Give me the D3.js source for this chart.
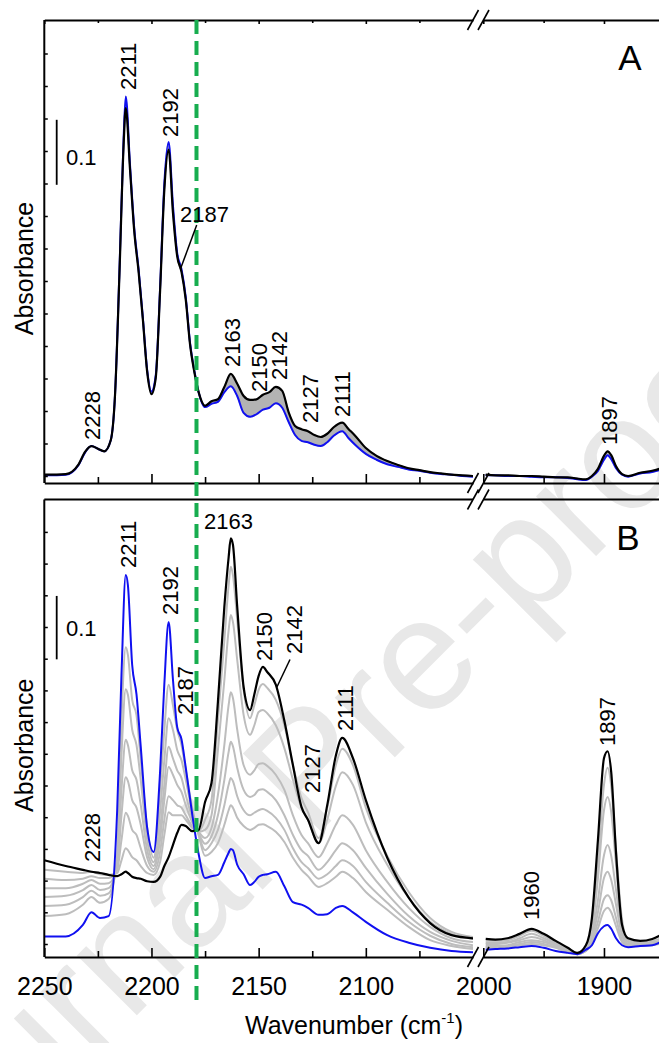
<!DOCTYPE html>
<html><head><meta charset="utf-8">
<script src="https://cdn.jsdelivr.net/npm/d3@7"></script>
<style>html,body{margin:0;padding:0;background:#fff;} svg{display:block;}</style>
</head><body>
<svg id="chart" width="659" height="1043"></svg>
<script>
// ---------------- DATA ----------------
// Left segment wavenumbers (cm-1), panel A
const wnA = [2250,2240,2234,2231,2228,2225,2222,2219,2217,2215,2213,2212,2210,2208,2206,2204,2202,2200,2198,2196,2194,2192,2190,2188,2186,2184,2182,2180,2178,2175,2172,2169,2166,2163,2160,2157,2154,2151,2148,2145,2142,2139,2136,2133,2130,2127,2124,2121,2118,2115,2111,2108,2105,2100,2095,2090,2085,2080,2075,2070,2065,2060,2055,2050];
const blackA = [0.002,0.003,0.018,0.037,0.046,0.042,0.038,0.055,0.125,0.305,0.509,0.566,0.471,0.375,0.314,0.240,0.160,0.126,0.151,0.283,0.440,0.502,0.406,0.338,0.314,0.271,0.202,0.160,0.129,0.108,0.115,0.118,0.137,0.157,0.142,0.123,0.117,0.118,0.125,0.129,0.137,0.131,0.098,0.077,0.072,0.069,0.063,0.060,0.065,0.075,0.082,0.072,0.062,0.043,0.031,0.023,0.017,0.012,0.009,0.006,0.004,0.002,0.001,0.000];
const blueA = [0.001,0.002,0.017,0.036,0.046,0.042,0.038,0.055,0.125,0.310,0.520,0.584,0.478,0.380,0.318,0.243,0.163,0.130,0.155,0.288,0.450,0.514,0.417,0.343,0.318,0.275,0.205,0.162,0.129,0.106,0.111,0.114,0.129,0.138,0.123,0.097,0.091,0.095,0.102,0.105,0.112,0.105,0.083,0.063,0.054,0.052,0.048,0.046,0.052,0.062,0.069,0.058,0.048,0.034,0.025,0.018,0.014,0.010,0.008,0.005,0.003,0.002,0.000,-0.001];
// Right segment wavenumbers (both panels)
const wnR = [1998,1990,1980,1970,1960,1950,1940,1930,1922,1915,1910,1905,1900,1897,1894,1890,1885,1880,1870,1860,1854];
const blackA_R = [0.002,0.001,0.001,0.000,0.000,-0.001,-0.002,-0.002,-0.004,-0.005,0.000,0.011,0.031,0.038,0.032,0.015,0.003,0.000,0.005,0.008,0.011];
const blueA_R = [0.001,0.001,0.000,0.000,-0.001,-0.002,-0.002,-0.003,-0.005,-0.006,-0.001,0.008,0.025,0.032,0.026,0.012,0.002,-0.001,0.004,0.006,0.009];

// Panel B, left segment
const wnB = [2250,2240,2232,2228,2224,2220,2216,2214,2212,2211,2209,2207,2205,2202,2199,2196,2194,2192,2190,2188,2186,2184,2181,2178,2175,2172,2169,2166,2164,2163,2162,2160,2157,2154,2152,2150,2148,2146,2142,2138,2134,2130,2127,2122,2118,2114,2111,2106,2100,2090,2080,2070,2060,2050];
const blueB = [0.012,0.012,0.030,0.050,0.041,0.044,0.211,0.424,0.582,0.566,0.440,0.394,0.311,0.183,0.145,0.271,0.410,0.508,0.418,0.342,0.323,0.278,0.205,0.142,0.104,0.107,0.109,0.129,0.144,0.150,0.148,0.125,0.110,0.093,0.098,0.106,0.109,0.110,0.114,0.091,0.066,0.062,0.057,0.046,0.047,0.057,0.060,0.050,0.035,0.014,0.002,-0.006,-0.011,-0.013];
const g1B = [0.044,0.047,0.062,0.074,0.065,0.071,0.140,0.353,0.468,0.456,0.385,0.361,0.290,0.183,0.136,0.243,0.338,0.409,0.377,0.338,0.314,0.274,0.215,0.172,0.139,0.145,0.159,0.188,0.211,0.219,0.215,0.199,0.186,0.180,0.183,0.188,0.189,0.186,0.177,0.161,0.136,0.117,0.107,0.090,0.096,0.106,0.114,0.104,0.082,0.054,0.027,0.006,-0.003,-0.008];
const g2B = [0.060,0.062,0.074,0.084,0.076,0.080,0.132,0.298,0.402,0.393,0.338,0.314,0.259,0.164,0.129,0.208,0.290,0.356,0.338,0.306,0.290,0.259,0.208,0.173,0.148,0.159,0.180,0.219,0.251,0.262,0.257,0.233,0.211,0.203,0.207,0.211,0.213,0.210,0.199,0.180,0.151,0.129,0.120,0.103,0.110,0.123,0.132,0.123,0.098,0.065,0.035,0.013,0.000,-0.005];
const g3B = [0.074,0.076,0.085,0.093,0.085,0.088,0.125,0.243,0.322,0.314,0.274,0.259,0.219,0.148,0.123,0.180,0.251,0.311,0.293,0.274,0.262,0.235,0.199,0.175,0.158,0.170,0.203,0.259,0.303,0.319,0.312,0.278,0.243,0.232,0.235,0.243,0.244,0.240,0.227,0.203,0.172,0.148,0.139,0.117,0.129,0.148,0.159,0.148,0.120,0.079,0.044,0.019,0.005,-0.002];
const g4B = [0.088,0.088,0.095,0.101,0.095,0.096,0.120,0.203,0.263,0.257,0.227,0.215,0.188,0.136,0.118,0.164,0.227,0.279,0.267,0.251,0.240,0.219,0.192,0.177,0.167,0.183,0.235,0.314,0.377,0.397,0.388,0.338,0.282,0.267,0.274,0.284,0.285,0.281,0.267,0.243,0.203,0.172,0.159,0.137,0.159,0.188,0.203,0.188,0.148,0.098,0.057,0.027,0.009,0.003];
const g5B = [0.103,0.101,0.103,0.107,0.104,0.104,0.117,0.164,0.207,0.202,0.180,0.172,0.151,0.123,0.114,0.145,0.196,0.233,0.227,0.219,0.215,0.203,0.186,0.177,0.180,0.203,0.306,0.416,0.495,0.519,0.508,0.448,0.361,0.330,0.345,0.366,0.369,0.364,0.345,0.309,0.259,0.215,0.196,0.159,0.196,0.249,0.271,0.251,0.192,0.125,0.073,0.035,0.016,0.008];
const g6B = [0.117,0.114,0.112,0.114,0.110,0.109,0.112,0.132,0.151,0.148,0.137,0.132,0.123,0.112,0.109,0.129,0.172,0.208,0.203,0.203,0.203,0.196,0.183,0.178,0.196,0.227,0.353,0.479,0.566,0.595,0.582,0.511,0.401,0.356,0.377,0.401,0.410,0.404,0.385,0.345,0.282,0.230,0.208,0.167,0.215,0.282,0.308,0.282,0.215,0.139,0.082,0.041,0.019,0.011];
const blackB = [0.132,0.123,0.117,0.114,0.112,0.109,0.107,0.110,0.114,0.112,0.106,0.104,0.103,0.099,0.098,0.106,0.123,0.137,0.156,0.175,0.188,0.186,0.178,0.180,0.224,0.254,0.382,0.532,0.610,0.640,0.630,0.532,0.405,0.369,0.394,0.423,0.437,0.429,0.409,0.352,0.282,0.216,0.196,0.159,0.219,0.297,0.325,0.293,0.227,0.136,0.073,0.033,0.014,0.009];
// Panel B, right segment
const blueB_R  = [-0.009,-0.008,-0.007,-0.005,-0.003,-0.006,-0.011,-0.014,-0.016,-0.009,-0.002,0.017,0.028,0.030,0.024,0.009,-0.002,-0.005,-0.003,-0.002,0.002];
const g1B_R = [-0.006,-0.006,-0.005,-0.002,0.000,-0.002,-0.006,-0.013,-0.016,-0.011,0.002,0.025,0.052,0.057,0.050,0.028,0.003,-0.003,-0.003,-0.002,0.000];
const g2B_R = [-0.005,-0.005,-0.003,0.000,0.003,0.000,-0.005,-0.011,-0.016,-0.011,0.005,0.035,0.071,0.077,0.069,0.041,0.006,-0.003,-0.002,0.000,0.002];
const g3B_R = [-0.003,-0.003,-0.002,0.003,0.006,0.003,-0.003,-0.011,-0.016,-0.009,0.009,0.050,0.104,0.114,0.101,0.062,0.013,-0.002,-0.002,0.000,0.002];
const g4B_R = [0.000,0.000,0.002,0.006,0.011,0.006,-0.002,-0.009,-0.014,-0.008,0.014,0.069,0.140,0.156,0.139,0.085,0.019,0.000,0.000,0.002,0.003];
const g5B_R = [0.002,0.002,0.003,0.009,0.016,0.009,0.000,-0.009,-0.014,-0.006,0.022,0.104,0.211,0.232,0.208,0.125,0.028,0.003,0.002,0.003,0.005];
const g6B_R = [0.005,0.005,0.006,0.013,0.021,0.013,0.002,-0.008,-0.014,-0.005,0.030,0.129,0.251,0.278,0.249,0.148,0.038,0.006,0.003,0.005,0.008];
const blackB_R = [0.008,0.007,0.009,0.016,0.024,0.016,0.005,-0.006,-0.014,-0.002,0.041,0.164,0.293,0.304,0.271,0.144,0.030,0.009,0.005,0.008,0.013];

// Tick values / labels
const majorTicksL = [2250,2200,2150,2100];
const minorTicksL = [2225,2175,2125,2075];
const majorTicksR = [2000,1900];
const minorTicksR = [1950];
const yTickValues = d3.range(0, 0.651, 0.05);
const dashedLineWn = 2179;

// Peak annotations
const peaksA = [2228,2211,2192,2163,2150,2142,2127,2111];
const peaksA_R = [1897];
const peaksB = [2228,2211,2192,2187,2150,2127,2111];
const peaksB_R = [1960,1897];

// ---------------- LAYOUT ----------------
const FONT = '"Liberation Sans", Arial, Helvetica, sans-serif';
const svg = d3.select('#chart');
const W = 659, H = 1043;
svg.append('rect').attr('width', W).attr('height', H).attr('fill', '#fff');

// watermark
svg.append('text')
  .attr('transform', 'translate(-91,1243) rotate(-45)')
  .attr('font-family', FONT).attr('font-size', 160).attr('fill', '#e8e8e8')
  .text('Journal Pre-proof');

const xL = d3.scaleLinear().domain([2250, 2050]).range([44.3, 473]);
const xR = d3.scaleLinear().domain([2000, 1854.4]).range([483.3, 659]);
const yA = d3.scaleLinear().domain([0, 0.7]).range([476, 21]);
const yB = d3.scaleLinear().domain([0, 0.7]).range([944, 500.2]);

const panels = [
  {id:'A', top:20, bottom:483, y:yA},
  {id:'B', top:499.5, bottom:957, y:yB}
];

const defs = svg.append('defs');
panels.forEach(p => {
  defs.append('clipPath').attr('id', 'clipL' + p.id).append('rect')
    .attr('x', 44.3).attr('y', p.top).attr('width', 473 - 44.3).attr('height', p.bottom - p.top);
  defs.append('clipPath').attr('id', 'clipR' + p.id).append('rect')
    .attr('x', 483.3).attr('y', p.top).attr('width', 659 - 483.3).attr('height', p.bottom - p.top);
});

function lineGen(x, y) {
  return d3.line().x(d => x(d[0])).y(d => y(d[1])).curve(d3.curveMonotoneX);
}
function zipD(w, v) { return w.map((d, i) => [d, v[i]]); }

// ---------- Panel A curves ----------
const gAL = svg.append('g').attr('clip-path', 'url(#clipLA)');
const gAR = svg.append('g').attr('clip-path', 'url(#clipRA)');
function bandA(g, x, wn, lo, hi) {
  const area = d3.area().x((d, i) => x(wn[i])).y0((d, i) => yA(lo[i])).y1((d, i) => yA(hi[i])).curve(d3.curveMonotoneX);
  g.append('path').datum(wn).attr('d', area).attr('fill', '#b3b3b3').attr('stroke', '#c4c4c4').attr('stroke-width', 1.5);
}
bandA(gAL, xL, wnA, blueA, blackA);
bandA(gAR, xR, wnR, blueA_R, blackA_R);
[[gAL, xL, wnA, blueA, '#1010f0'], [gAR, xR, wnR, blueA_R, '#1010f0'],
 [gAL, xL, wnA, blackA, '#000'], [gAR, xR, wnR, blackA_R, '#000']].forEach(([g, x, w, v, c]) => {
  g.append('path').datum(zipD(w, v)).attr('d', lineGen(x, yA)).attr('fill', 'none')
    .attr('stroke', c).attr('stroke-width', c === '#000' ? 2.2 : 2).attr('stroke-linejoin', 'round');
});

// ---------- Panel B curves ----------
const gBL = svg.append('g').attr('clip-path', 'url(#clipLB)');
const gBR = svg.append('g').attr('clip-path', 'url(#clipRB)');
const seriesB = [
  [g1B, g1B_R, '#bdbdbd', 2], [g2B, g2B_R, '#bdbdbd', 2], [g3B, g3B_R, '#bdbdbd', 2],
  [g4B, g4B_R, '#bdbdbd', 2], [g5B, g5B_R, '#bdbdbd', 2], [g6B, g6B_R, '#bdbdbd', 2],
  [blueB, blueB_R, '#1010f0', 2], [blackB, blackB_R, '#000', 2.2]
];
seriesB.forEach(([vl, vr, c, sw]) => {
  gBL.append('path').datum(zipD(wnB, vl)).attr('d', lineGen(xL, yB)).attr('fill', 'none')
    .attr('stroke', c).attr('stroke-width', sw).attr('stroke-linejoin', 'round');
  gBR.append('path').datum(zipD(wnR, vr)).attr('d', lineGen(xR, yB)).attr('fill', 'none')
    .attr('stroke', c).attr('stroke-width', sw).attr('stroke-linejoin', 'round');
});

// ---------- Axes ----------
function hAxis(y, dir, labels, minorLen, majorLen) {
  [[xL, majorTicksL, minorTicksL], [xR, majorTicksR, minorTicksR]].forEach(([x, maj, min]) => {
    const mk = dir === 'bottom' ? d3.axisBottom : d3.axisTop;
    const gMaj = svg.append('g').attr('transform', `translate(0,${y})`)
      .call(mk(x).tickValues(maj).tickSize(-majorLen).tickSizeOuter(0)
        .tickPadding(majorLen + 11).tickFormat(labels ? d3.format('d') : ''));
    gMaj.select('.domain').attr('stroke-width', 2);
    gMaj.selectAll('.tick line').attr('stroke-width', 1.6);
    gMaj.selectAll('text').attr('font-family', FONT).attr('font-size', 25).attr('fill', '#000');
    const gMin = svg.append('g').attr('transform', `translate(0,${y})`)
      .call(mk(x).tickValues(min).tickSize(-minorLen).tickSizeOuter(0).tickFormat(''));
    gMin.select('.domain').remove();
    gMin.selectAll('.tick line').attr('stroke-width', 1.6);
  });
  [473, 483.5].forEach(cx => {
    svg.append('line').attr('x1', cx - 5.5).attr('y1', y + 10).attr('x2', cx + 5.5).attr('y2', y - 10)
      .attr('stroke', '#000').attr('stroke-width', 1.6);
  });
}
hAxis(20, 'top', false, 3, 4);
hAxis(483, 'bottom', false, 6, 9);
svg.append('line').attr('x1', 44.3).attr('x2', 473).attr('y1', 499.5).attr('y2', 499.5).attr('stroke', '#000').attr('stroke-width', 2);
svg.append('line').attr('x1', 483.3).attr('x2', 659).attr('y1', 499.5).attr('y2', 499.5).attr('stroke', '#000').attr('stroke-width', 2);
[473, 483.5].forEach(cx => {
  svg.append('line').attr('x1', cx - 5.5).attr('y1', 499.5 + 10).attr('x2', cx + 5.5).attr('y2', 499.5 - 10)
    .attr('stroke', '#000').attr('stroke-width', 1.6);
});
hAxis(957, 'bottom', true, 6, 9);

// left axes
panels.forEach(p => {
  svg.append('line').attr('x1', 44.3).attr('x2', 44.3).attr('y1', p.top).attr('y2', p.bottom)
    .attr('stroke', '#000').attr('stroke-width', 2);
  const g = svg.append('g').attr('transform', 'translate(44.3,0)')
    .call(d3.axisLeft(p.y).tickValues(yTickValues).tickSize(-3.5).tickSizeOuter(0).tickFormat(''));
  g.select('.domain').remove();
  g.selectAll('.tick line').attr('stroke-width', 1.5);
  svg.append('text').attr('transform', `translate(33,${(p.top + p.bottom) / 2 + 17}) rotate(-90)`)
    .attr('text-anchor', 'middle').attr('font-family', FONT).attr('font-size', 25).text('Absorbance');
});

// scale bars
[[yA, 0.448, 165], [yB, 0.449, 636]].forEach(([y, v0, ty]) => {
  svg.append('line').attr('x1', 56.7).attr('x2', 56.7).attr('y1', y(v0)).attr('y2', y(v0 + 0.1))
    .attr('stroke', '#000').attr('stroke-width', 1.8);
  svg.append('text').attr('x', 66).attr('y', ty).attr('font-family', FONT).attr('font-size', 22).text('0.1');
});

// green dashed line
svg.append('line').attr('x1', xL(dashedLineWn)).attr('x2', xL(dashedLineWn)).attr('y1', 20).attr('y2', 1002)
  .attr('stroke', '#17ad4f').attr('stroke-width', 4).attr('stroke-dasharray', '14,7');

// panel letters
svg.append('text').attr('x', 630).attr('y', 70).attr('text-anchor', 'middle').attr('font-family', FONT).attr('font-size', 35).text('A');
svg.append('text').attr('x', 628).attr('y', 550).attr('text-anchor', 'middle').attr('font-family', FONT).attr('font-size', 35).text('B');

// x title
const xt = svg.append('text').attr('x', 354).attr('y', 1034).attr('text-anchor', 'middle')
  .attr('font-family', FONT).attr('font-size', 25);
xt.append('tspan').text('Wavenumber (cm');
xt.append('tspan').attr('font-size', 15).attr('dy', -11).text('-1');
xt.append('tspan').attr('dy', 11).text(')');

// peak labels (rotated)
function vlabel(x, yStart, txt) {
  svg.append('text').attr('transform', `translate(${x},${yStart}) rotate(-90)`)
    .attr('font-family', FONT).attr('font-size', 22).text(txt);
}
const labelStartA = {2228:440, 2211:90, 2192:137, 2163:367, 2150:392, 2142:380, 2127:423, 2111:417};
const labelDxA = {2228:8.5, 2211:8.5, 2192:9, 2163:9, 2150:8.5, 2142:11, 2127:10, 2111:8};
peaksA.forEach(w => vlabel(xL(w) + labelDxA[w], labelStartA[w], String(w)));
peaksA_R.forEach(w => vlabel(xR(w) + 9.5, 445, String(w)));
svg.append('text').attr('x', 180).attr('y', 222).attr('font-family', FONT).attr('font-size', 22).text('2187');
svg.append('line').attr('x1', 196.7).attr('y1', 225).attr('x2', xL(2187) + 1).attr('y2', yA(0.318)).attr('stroke', '#000').attr('stroke-width', 1.5);

const labelStartB = {2228:862, 2211:568, 2192:615, 2187:715, 2150:661, 2127:793, 2111:731};
const labelDxB = {2228:8.5, 2211:8, 2192:9.5, 2187:13.5, 2150:13, 2127:12.5, 2111:10.5};
peaksB.forEach(w => vlabel(xL(w) + labelDxB[w], labelStartB[w], String(w)));
const labelStartB_R = {1960:920, 1897:746};
peaksB_R.forEach(w => vlabel(xR(w) + 7.5, labelStartB_R[w], String(w)));
svg.append('text').attr('x', 204).attr('y', 528.5).attr('font-family', FONT).attr('font-size', 22).text('2163');
vlabel(301.7, 654, '2142');
svg.append('line').attr('x1', 290).attr('y1', 659.5).attr('x2', xL(2142) + 1).attr('y2', yB(0.405)).attr('stroke', '#000').attr('stroke-width', 1.5);
</script></body></html>
